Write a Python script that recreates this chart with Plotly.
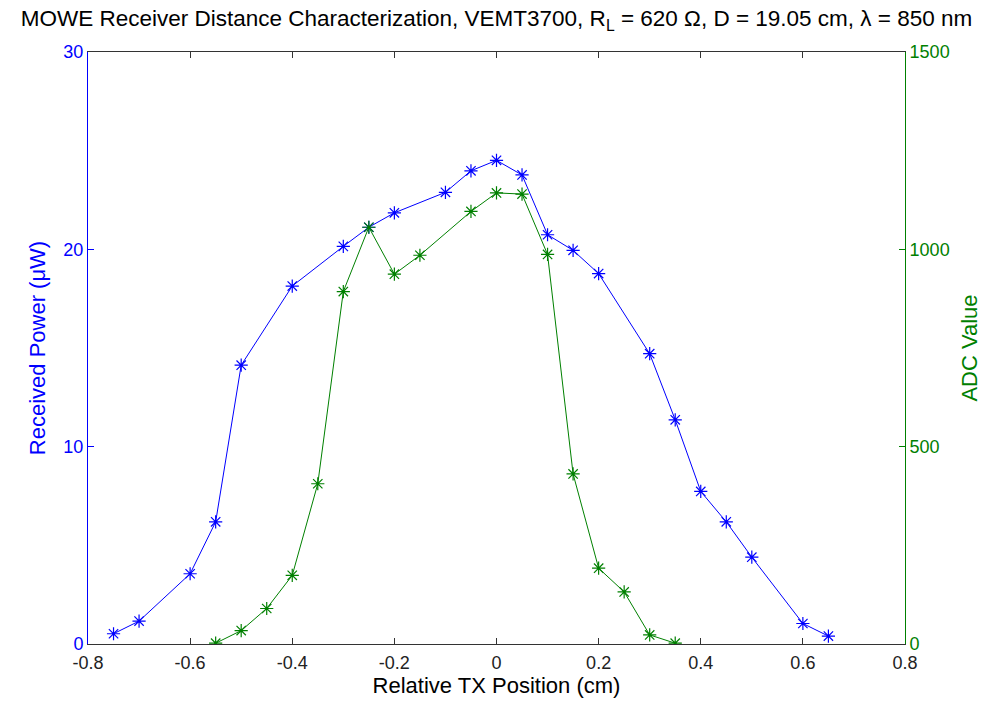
import plotly.graph_objects as go

pos_power = [-0.75, -0.7, -0.6, -0.55, -0.5, -0.4, -0.3, -0.25, -0.2, -0.1, -0.05, 0.0, 0.05,
             0.1, 0.15, 0.2, 0.3, 0.35, 0.4, 0.45, 0.5, 0.6, 0.65]
power_uw = [0.52, 1.16, 3.56, 6.19, 14.13, 18.14, 20.15, 21.12, 21.85, 22.89, 23.98, 24.51, 23.77,
            20.74, 19.95, 18.77, 14.71, 11.36, 7.73, 6.19, 4.40, 1.04, 0.40]

pos_adc = [-0.55, -0.5, -0.45, -0.4, -0.35, -0.3, -0.25, -0.2, -0.15, -0.05, 0.0, 0.05,
           0.1, 0.15, 0.2, 0.25, 0.3, 0.35]
adc_value = [2, 34, 90, 174, 406, 893, 1056, 937, 985, 1096, 1143, 1140,
             987, 431, 192, 132, 23, 2]

x_ticks = [-0.8, -0.6, -0.4, -0.2, 0, 0.2, 0.4, 0.6, 0.8]
x_tick_text = ["-0.8", "-0.6", "-0.4", "-0.2", "0", "0.2", "0.4", "0.6", "0.8"]
y1_ticks = [0, 10, 20, 30]
y2_ticks = [0, 500, 1000, 1500]

BLUE = "#0000ff"
GREEN = "#008000"
FONT = "Liberation Sans, Arial, sans-serif"

fig = go.Figure()
fig.add_trace(go.Scatter(
    x=pos_power, y=power_uw, mode="lines+markers",
    line=dict(color=BLUE, width=1),
    marker=dict(symbol="asterisk-open", size=11, line=dict(color=BLUE, width=1.2)),
    yaxis="y", showlegend=False))
fig.add_trace(go.Scatter(
    x=pos_adc, y=adc_value, mode="lines+markers",
    line=dict(color=GREEN, width=1),
    marker=dict(symbol="asterisk-open", size=11, line=dict(color=GREEN, width=1.2)),
    yaxis="y2", showlegend=False))

fig.update_layout(
    width=989, height=702,
    margin=dict(l=88, r=81, t=52, b=54),
    paper_bgcolor="white", plot_bgcolor="white",
    font=dict(family=FONT, size=18, color="#222222"),
    title=dict(
        text="MOWE Receiver Distance Characterization, VEMT3700, R<sub>L</sub> = 620 Ω, D = 19.05 cm, λ = 850 nm",
        x=0.502, xanchor="center", y=0.974, yanchor="middle",
        font=dict(family=FONT, size=22.5, color="black")),
    xaxis=dict(
        range=[-0.8, 0.8], tickvals=x_ticks, ticktext=x_tick_text,
        showgrid=False, zeroline=False, showline=True, linecolor="#333333", linewidth=1,
        mirror="ticks", ticks="inside", ticklen=6, tickcolor="#333333",
        tickfont=dict(size=18, color="#222222"), ticklabelstandoff=2,
        title=dict(text="Relative TX Position (cm)", font=dict(size=22, color="black"), standoff=2)),
    yaxis=dict(
        range=[0, 30], tickvals=y1_ticks,
        showgrid=False, zeroline=False, showline=True, linecolor=BLUE, linewidth=1,
        ticks="inside", ticklen=6, tickcolor=BLUE,
        tickfont=dict(size=18, color=BLUE),
        title=dict(text="Received Power (μW)", font=dict(size=22, color=BLUE), standoff=11)),
    yaxis2=dict(
        range=[0, 1500], tickvals=y2_ticks, overlaying="y", side="right",
        showgrid=False, zeroline=False, showline=True, linecolor=GREEN, linewidth=1,
        ticks="inside", ticklen=6, tickcolor=GREEN,
        tickfont=dict(size=18, color=GREEN),
        title=dict(text="ADC Value", font=dict(size=22, color=GREEN), standoff=12)),
)

fig.write_html("out.html", config={"displayModeBar": False})

with open("out.html", "r", encoding="utf-8") as f:
    html = f.read()
html = html.replace("<head>", "<head><style>html,body{margin:0;padding:0;}</style>", 1)
with open("out.html", "w", encoding="utf-8") as f:
    f.write(html)
